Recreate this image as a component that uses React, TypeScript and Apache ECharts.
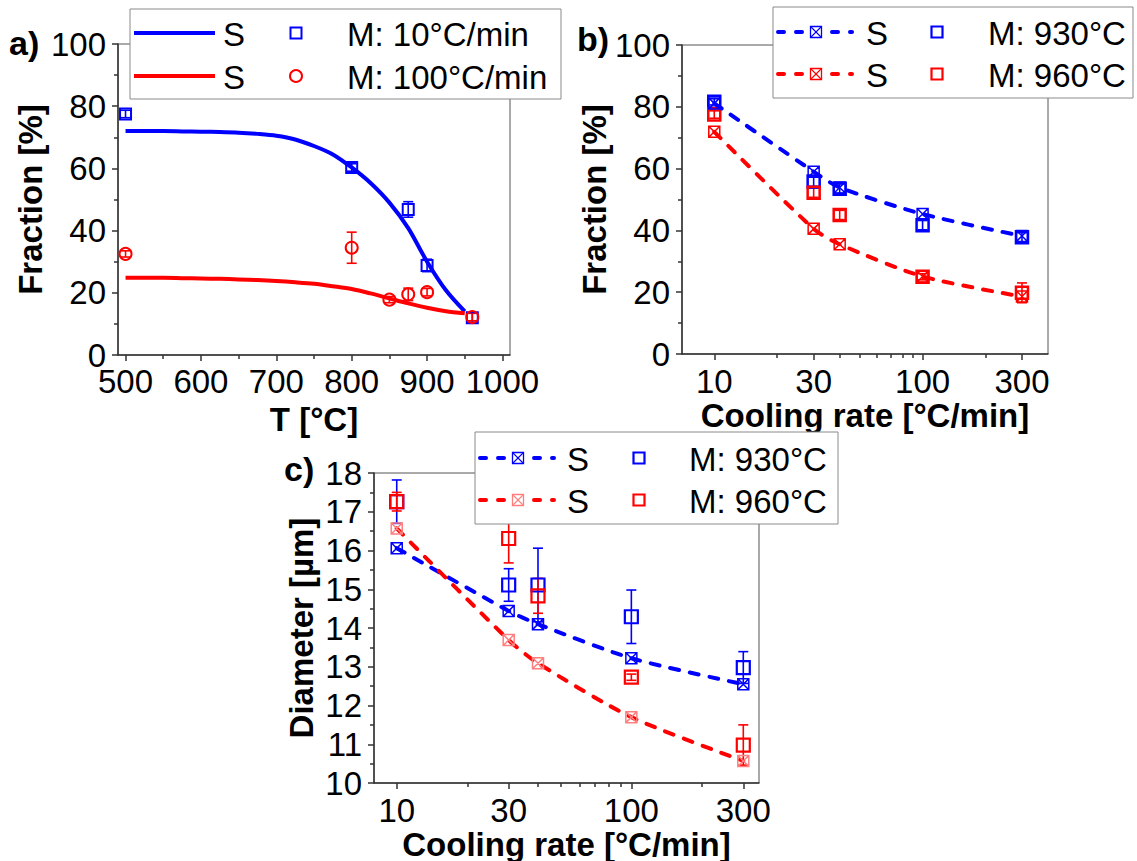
import React, { useEffect, useRef } from 'react';
import * as echarts from 'echarts';

const BLUE = '#0000ff';
const RED = '#ff0000';
const PINK = '#ff7f7f';
const FONT = '"Liberation Sans", Arial, Helvetica, sans-serif';
const AXIS = '#333333';

// ---------- Panel a: fraction vs temperature ----------
const aTempM10 = [500, 800, 875, 900, 960];
const aFracM10 = [77.5, 60.3, 46.8, 28.8, 12.0];
const aErrM10 = [1.2, 1.2, 2.5, 2.0, 1.5];
const aTempM100 = [500, 800, 850, 875, 900, 960];
const aFracM100 = [32.5, 34.5, 17.8, 19.5, 20.2, 12.2];
const aErrM100 = [1.0, 5.0, 1.0, 2.0, 1.2, 1.2];
const aCurveT10 = [500, 525, 550, 575, 600, 625, 650, 675, 700, 725, 750, 775, 800, 825, 850, 875, 900, 925, 950];
const aCurveS10 = [72.0, 72.0, 72.0, 71.9, 71.8, 71.7, 71.5, 71.1, 70.5, 69.3, 67.2, 64.5, 60.3, 55.3, 49.0, 40.8, 30.0, 20.8, 14.0];
const aCurveT100 = [500, 525, 550, 575, 600, 625, 650, 675, 700, 725, 750, 775, 800, 825, 850, 875, 900, 925, 950];
const aCurveS100 = [24.8, 24.8, 24.8, 24.7, 24.6, 24.5, 24.3, 24.1, 23.8, 23.4, 22.9, 22.1, 21.2, 19.8, 18.2, 16.6, 15.2, 14.1, 13.4];
const aXTicks = [500, 600, 700, 800, 900, 1000];
const aXMinor = [550, 650, 750, 850, 950];

// ---------- Panel b: fraction vs cooling rate ----------
const rates = [10, 30, 40, 100, 300];
const bS930 = [81.1, 59.0, 53.9, 45.3, 38.2];
const bM930 = [81.6, 55.8, 53.5, 41.7, 37.8];
const bErr930 = [1.0, 1.5, 1.5, 1.5, 1.5];
const bS960 = [71.9, 40.5, 35.5, 25.1, 18.6];
const bM960 = [77.5, 52.2, 45.0, 25.0, 19.8];
const bErr960 = [1.2, 1.5, 1.5, 1.0, 3.2];
const rateTicks = [10, 30, 100, 300];
const rateMinor = [20, 40, 50, 60, 70, 80, 90, 200];

// ---------- Panel c: diameter vs cooling rate ----------
const cS930 = [16.06, 14.44, 14.1, 13.22, 12.55];
const cM930 = [17.26, 15.11, 15.11, 14.29, 12.98];
const cErr930 = [0.56, 0.42, 0.95, 0.69, 0.41];
const cS960 = [16.57, 13.69, 13.09, 11.7, 10.57];
const cM960 = [17.26, 16.31, 14.83, 12.73, 10.98];
const cErr960 = [0.24, 0.63, 0.45, 0.08, 0.52];

const lg = (v: number) => Math.log10(v);
const CROSS_SQ = 'path://M0 0H10V10H0Z M0 0L10 10 M10 0L0 10';

const tickFont = { fontFamily: FONT, fontSize: 33, color: '#000' };
const nameFont = { fontFamily: FONT, fontSize: 33, fontWeight: 'bold', color: '#000' };
const axLine = { color: AXIS, width: 1.5 };

function yAxisCfg(grid: number, min: number, max: number, interval: number, name: string, nameGap: number) {
  return {
    type: 'value', gridIndex: grid, min, max, interval, name, nameLocation: 'middle', nameGap,
    nameTextStyle: nameFont,
    axisLine: { show: true, lineStyle: axLine },
    axisTick: { show: true, length: 6, lineStyle: axLine },
    minorTick: { show: true, splitNumber: 2, length: 4, lineStyle: axLine },
    axisLabel: { ...tickFont, margin: 12, formatter: (v: number) => String(v) },
    splitLine: { show: false },
    minorSplitLine: { show: false },
  };
}

function xAxisCfg(grid: number, min: number, max: number, ticks: number[], name: string, nameGap: number, margin: number, fmt: (v: number) => string, nameSize = 33) {
  return {
    type: 'value', gridIndex: grid, min, max, position: 'bottom', name, nameLocation: 'middle', nameGap,
    nameTextStyle: { ...nameFont, fontSize: nameSize, lineHeight: nameSize },
    axisLine: { show: true, onZero: false, lineStyle: axLine },
    axisTick: { show: true, length: 6, lineStyle: axLine, customValues: ticks },
    axisLabel: { ...tickFont, margin, customValues: ticks, formatter: fmt },
    splitLine: { show: false },
  };
}

function xMinorCfg(grid: number, min: number, max: number, ticks: number[]) {
  return {
    type: 'value', gridIndex: grid, min, max, position: 'bottom',
    axisLine: { show: false, onZero: false },
    axisTick: { show: true, length: 4, lineStyle: axLine, customValues: ticks },
    axisLabel: { show: false, customValues: ticks },
    splitLine: { show: false },
  };
}

function errSeries(name: string, xIdx: number, yIdx: number, xs: number[], ys: number[], es: number[], color: string) {
  return {
    type: 'custom', name, xAxisIndex: xIdx, yAxisIndex: yIdx, silent: true,
    data: xs.map((x, i) => [x, ys[i], es[i]]),
    encode: { x: 0, y: 1 },
    renderItem: (params: any, api: any) => {
      const x = api.value(0);
      const y = api.value(1);
      const e = api.value(2);
      const top = api.coord([x, y + e]);
      const bot = api.coord([x, y - e]);
      const cw = 5;
      const st = { stroke: color, lineWidth: 1.6 };
      return {
        type: 'group',
        children: [
          { type: 'line', shape: { x1: top[0], y1: top[1], x2: bot[0], y2: bot[1] }, style: st },
          { type: 'line', shape: { x1: top[0] - cw, y1: top[1], x2: top[0] + cw, y2: top[1] }, style: st },
          { type: 'line', shape: { x1: bot[0] - cw, y1: bot[1], x2: bot[0] + cw, y2: bot[1] }, style: st },
        ],
      };
    },
  };
}

function markerSeries(name: string, xIdx: number, yIdx: number, xs: number[], ys: number[], color: string, symbol: string, size: number, bw: number) {
  return {
    type: 'scatter', name, xAxisIndex: xIdx, yAxisIndex: yIdx, silent: true,
    symbol, symbolSize: size,
    itemStyle: { color: 'rgba(0,0,0,0)', borderColor: color, borderWidth: bw, opacity: 1 },
    data: xs.map((x, i) => [x, ys[i]]),
  };
}

function dashSeries(name: string, xIdx: number, yIdx: number, xs: number[], ys: number[], color: string, markColor: string) {
  return {
    type: 'line', name, xAxisIndex: xIdx, yAxisIndex: yIdx, silent: true,
    smooth: 0.25,
    symbol: CROSS_SQ, symbolSize: 11, showSymbol: true,
    lineStyle: { color, width: 4, type: [9, 11], cap: 'round' },
    itemStyle: { color: 'rgba(0,0,0,0)', borderColor: markColor, borderWidth: 1.5 },
    data: xs.map((x, i) => [x, ys[i]]),
  };
}

function curveSeries(name: string, xs: number[], ys: number[], color: string) {
  return {
    type: 'line', name, xAxisIndex: 0, yAxisIndex: 0, silent: true,
    smooth: 0.3, symbol: 'none',
    lineStyle: { color, width: 4, join: 'round' },
    data: xs.map((x, i) => [x, ys[i]]),
  };
}

// ---------- legends as graphics ----------
const Z = 100;
const lText = (x: number, y: number, text: string) => ({
  type: 'text', z: Z, x, y,
  style: { text, fontFamily: FONT, fontSize: 33, fill: '#000', align: 'left', verticalAlign: 'middle' },
});
const lBox = (x: number, y: number, w: number, h: number) => ({
  type: 'rect', z: Z, shape: { x, y, width: w, height: h }, style: { fill: '#fff', stroke: '#8a8a8a', lineWidth: 1 },
});
const lSquare = (cx: number, cy: number, s: number, color: string, lw: number) => ({
  type: 'rect', z: Z + 1, shape: { x: cx - s / 2, y: cy - s / 2, width: s, height: s }, style: { fill: 'none', stroke: color, lineWidth: lw },
});
const lCross = (cx: number, cy: number, s: number, color: string) => [
  { type: 'rect', z: Z + 2, shape: { x: cx - s / 2, y: cy - s / 2, width: s, height: s }, style: { fill: '#fff', stroke: color, lineWidth: 1.3 } },
  { type: 'line', z: Z + 2, shape: { x1: cx - s / 2, y1: cy - s / 2, x2: cx + s / 2, y2: cy + s / 2 }, style: { stroke: color, lineWidth: 1.1 } },
  { type: 'line', z: Z + 2, shape: { x1: cx + s / 2, y1: cy - s / 2, x2: cx - s / 2, y2: cy + s / 2 }, style: { stroke: color, lineWidth: 1.1 } },
];
const lDash = (x1: number, x2: number, y: number, color: string) => ({
  type: 'line', z: Z + 1, shape: { x1, y1: y, x2, y2: y }, style: { stroke: color, lineWidth: 4, lineDash: [6, 12], lineCap: 'round' },
});

const legendA = [
  lBox(130, 9, 431, 90),
  { type: 'line', z: Z + 1, shape: { x1: 134, y1: 33, x2: 215, y2: 33 }, style: { stroke: BLUE, lineWidth: 4 } },
  lText(223, 34, 'S'),
  lSquare(296, 33, 11, BLUE, 2),
  lText(347, 34, 'M: 10°C/min'),
  { type: 'line', z: Z + 1, shape: { x1: 134, y1: 76, x2: 215, y2: 76 }, style: { stroke: RED, lineWidth: 4 } },
  lText(223, 77, 'S'),
  { type: 'circle', z: Z + 1, shape: { cx: 296, cy: 76, r: 6 }, style: { fill: 'none', stroke: RED, lineWidth: 2 } },
  lText(347, 77, 'M: 100°C/min'),
];

const legendB = [
  lBox(773, 7, 360, 91),
  lDash(778, 852, 32, BLUE),
  ...lCross(816, 32, 11, BLUE),
  lText(866, 33, 'S'),
  lSquare(937, 32, 11, BLUE, 2.2),
  lText(988, 33, 'M: 930°C'),
  lDash(778, 852, 74, RED),
  ...lCross(816, 74, 11, RED),
  lText(866, 75, 'S'),
  lSquare(937, 74, 11, RED, 2.2),
  lText(988, 75, 'M: 960°C'),
];

const legendC = [
  lBox(475, 432, 363, 92),
  lDash(480, 554, 458, BLUE),
  ...lCross(518, 458, 11, BLUE),
  lText(567, 459, 'S'),
  lSquare(639, 458, 11, BLUE, 2.2),
  lText(689, 459, 'M: 930°C'),
  lDash(480, 554, 500, RED),
  ...lCross(518, 500, 11, PINK),
  lText(567, 501, 'S'),
  lSquare(639, 500, 11, RED, 2.2),
  lText(689, 501, 'M: 960°C'),
];

const panelLabel = (x: number, y: number, t: string) => ({
  type: 'text', z: Z, x, y,
  style: { text: t, fontFamily: FONT, fontSize: 34, fontWeight: 'bold', fill: '#000', align: 'left', verticalAlign: 'middle' },
});

const rateFmt = (v: number) => String(Math.round(Math.pow(10, v)));
const plainFmt = (v: number) => String(v);

const option: any = {
  animation: false,
  backgroundColor: '#fff',
  grid: [
    { left: 118, top: 44, width: 392, height: 311, show: true, borderColor: '#555', borderWidth: 1, containLabel: false, outerBoundsMode: 'none' },
    { left: 682, top: 45, width: 366, height: 309, show: true, borderColor: '#555', borderWidth: 1, containLabel: false, outerBoundsMode: 'none' },
    { left: 374, top: 473, width: 385, height: 310, show: true, borderColor: '#555', borderWidth: 1, containLabel: false, outerBoundsMode: 'none' },
  ],
  xAxis: [
    xAxisCfg(0, 490, 1010, aXTicks, 'T [°C]', 48, 10, plainFmt),
    xMinorCfg(0, 490, 1010, aXMinor),
    xAxisCfg(1, lg(7), lg(400), rateTicks.map(lg), 'Cooling rate [°C/min]', 45, 11, rateFmt),
    xMinorCfg(1, lg(7), lg(400), rateMinor.map(lg)),
    xAxisCfg(2, lg(8), lg(350), rateTicks.map(lg), 'Cooling rate [°C/min]', 40, 11, rateFmt),
    xMinorCfg(2, lg(8), lg(350), rateMinor.map(lg)),
  ],
  yAxis: [
    yAxisCfg(0, 0, 100, 20, 'Fraction [%]', 56),
    yAxisCfg(1, 0, 100, 20, 'Fraction [%]', 50),
    yAxisCfg(2, 10, 18, 1, 'Diameter [µm]', 56),
  ],
  series: [
    // panel a
    curveSeries('S 10°C/min', aCurveT10, aCurveS10, BLUE),
    curveSeries('S 100°C/min', aCurveT100, aCurveS100, RED),
    errSeries('err M 10°C/min', 0, 0, aTempM10, aFracM10, aErrM10, BLUE),
    errSeries('err M 100°C/min', 0, 0, aTempM100, aFracM100, aErrM100, RED),
    markerSeries('M: 10°C/min', 0, 0, aTempM10, aFracM10, BLUE, 'rect', 11, 2),
    markerSeries('M: 100°C/min', 0, 0, aTempM100, aFracM100, RED, 'circle', 12, 2),
    // panel b
    dashSeries('b S 930°C', 2, 1, rates.map(lg), bS930, BLUE, BLUE),
    dashSeries('b S 960°C', 2, 1, rates.map(lg), bS960, RED, RED),
    errSeries('b err 930', 2, 1, rates.map(lg), bM930, bErr930, BLUE),
    errSeries('b err 960', 2, 1, rates.map(lg), bM960, bErr960, RED),
    markerSeries('b M: 930°C', 2, 1, rates.map(lg), bM930, BLUE, 'rect', 12, 2.5),
    markerSeries('b M: 960°C', 2, 1, rates.map(lg), bM960, RED, 'rect', 12, 2.5),
    // panel c
    dashSeries('c S 930°C', 4, 2, rates.map(lg), cS930, BLUE, BLUE),
    dashSeries('c S 960°C', 4, 2, rates.map(lg), cS960, RED, PINK),
    errSeries('c err 930', 4, 2, rates.map(lg), cM930, cErr930, BLUE),
    errSeries('c err 960', 4, 2, rates.map(lg), cM960, cErr960, RED),
    markerSeries('c M: 930°C', 4, 2, rates.map(lg), cM930, BLUE, 'rect', 13, 2.2),
    markerSeries('c M: 960°C', 4, 2, rates.map(lg), cM960, RED, 'rect', 13, 2.2),
  ],
  graphic: [
    panelLabel(9, 43, 'a)'),
    panelLabel(577, 39, 'b)'),
    panelLabel(284, 469, 'c)'),
    ...legendA,
    ...legendB,
    ...legendC,
  ],
};

export default function App() {
  const ref = useRef<HTMLDivElement>(null);
  useEffect(() => {
    const chart = echarts.init(ref.current!, null, { renderer: 'svg' });
    chart.setOption(option);
    return () => chart.dispose();
  }, []);
  return (
    <div
      ref={ref}
      style={{ position: 'absolute', left: 0, top: 0, width: 1137, height: 861, background: '#fff' }}
    />
  );
}
